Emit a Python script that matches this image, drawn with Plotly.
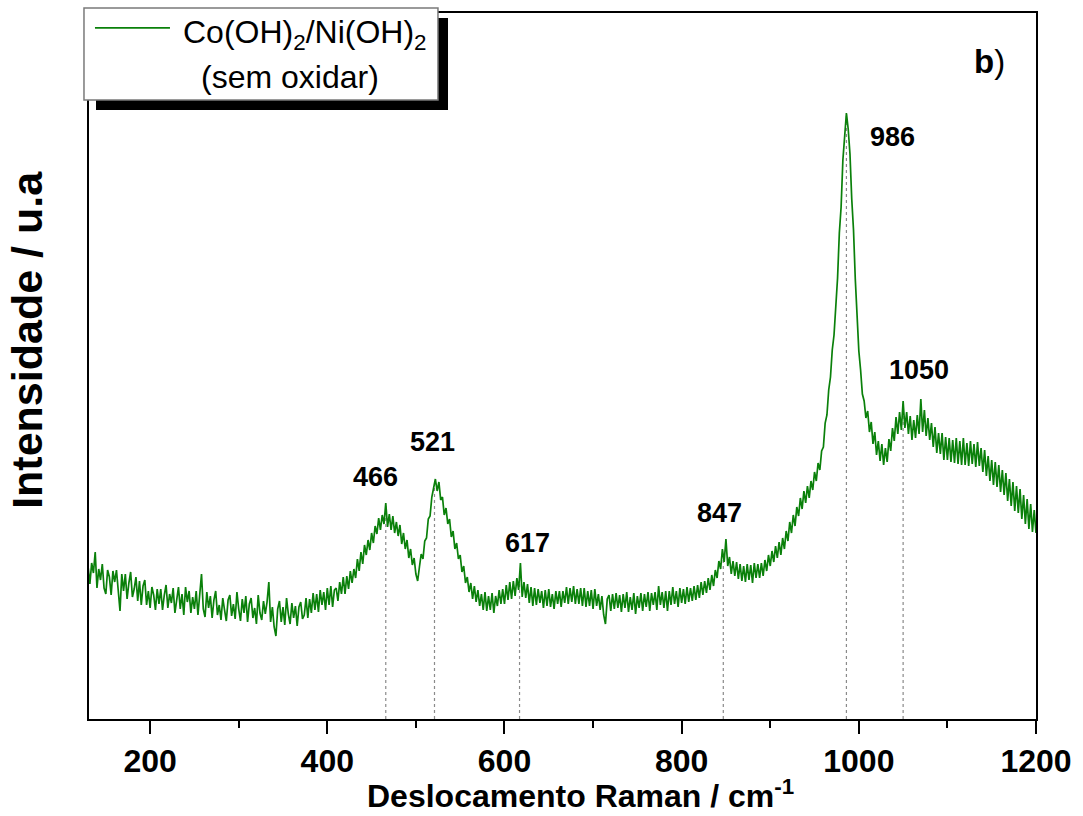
import numpy as np
import plotly.graph_objects as go

# Raman shift sampling grid (cm^-1)
SHIFT_START = 130
SHIFT_STEP = 2

# Measured intensity (arbitrary units), one value per grid point, 130-1202 cm^-1
intensity = [
    152, 135, 156, 146, 167, 131, 150, 139, 155, 131, 125, 149, 142, 124, 148, 137, 149, 126, 108, 145,
    128, 145, 120, 136, 147, 122, 130, 142, 118, 138, 114, 133, 139, 114, 128, 111, 132, 124, 109, 130,
    115, 130, 109, 124, 134, 111, 125, 116, 131, 106, 117, 132, 110, 125, 104, 132, 117, 128, 106, 122,
    110, 128, 104, 122, 145, 110, 102, 127, 111, 123, 101, 119, 128, 104, 114, 99, 121, 109, 98, 119,
    124, 103, 115, 100, 127, 110, 98, 120, 106, 123, 97, 115, 121, 101, 111, 95, 124, 106, 99, 118,
    105, 117, 137, 97, 112, 92, 83, 110, 118, 97, 112, 94, 121, 105, 95, 116, 101, 113, 93, 112,
    117, 100, 104, 121, 101, 120, 106, 126, 109, 125, 107, 129, 114, 127, 109, 131, 114, 133, 112, 129,
    131, 118, 137, 125, 142, 125, 143, 130, 148, 136, 150, 141, 160, 148, 167, 155, 174, 164, 179, 169,
    186, 176, 193, 185, 201, 189, 204, 195, 216, 192, 205, 189, 203, 186, 197, 183, 194, 175, 186, 170,
    179, 161, 170, 154, 161, 145, 138, 152, 165, 160, 178, 181, 200, 203, 222, 231, 240, 228, 237, 219,
    222, 204, 211, 195, 200, 182, 188, 170, 176, 160, 164, 147, 153, 136, 142, 127, 136, 120, 133, 117,
    129, 113, 125, 109, 127, 108, 123, 109, 126, 106, 123, 113, 129, 115, 130, 115, 134, 119, 137, 120,
    138, 123, 141, 129, 156, 122, 137, 121, 135, 116, 132, 113, 131, 114, 130, 116, 128, 111, 129, 113,
    130, 112, 125, 110, 128, 115, 128, 112, 128, 116, 132, 115, 131, 117, 133, 115, 130, 115, 131, 113,
    131, 112, 128, 113, 129, 110, 130, 113, 125, 109, 123, 104, 95, 120, 124, 108, 125, 110, 126, 111,
    124, 107, 125, 111, 127, 107, 122, 109, 126, 105, 123, 111, 126, 108, 125, 112, 127, 108, 126, 114,
    127, 109, 133, 114, 127, 111, 128, 108, 128, 114, 132, 115, 128, 112, 131, 116, 130, 115, 132, 117,
    131, 118, 133, 119, 134, 121, 137, 124, 138, 126, 141, 129, 144, 133, 149, 141, 158, 150, 170, 157,
    180, 153, 162, 145, 158, 143, 157, 140, 155, 138, 153, 137, 155, 139, 154, 136, 156, 141, 155, 141,
    156, 143, 159, 148, 164, 153, 168, 157, 173, 161, 177, 164, 181, 170, 188, 178, 197, 186, 204, 193,
    212, 203, 221, 210, 228, 216, 233, 221, 238, 229, 247, 238, 256, 249, 268, 272, 296, 304, 329, 342,
    369, 384, 414, 441, 486, 512, 559, 584, 606, 590, 565, 520, 489, 440, 402,
    368, 349, 325, 318, 301, 308, 287, 297, 275, 287, 264, 278, 258, 275, 254, 271, 257, 280, 268, 291,
    278, 302, 285, 307, 289, 318, 291, 307, 285, 303, 279, 299, 281, 304, 285, 320, 287, 309, 283, 301,
    279, 296, 272, 292, 266, 286, 265, 286, 259, 282, 259, 281, 257, 279, 256, 281, 255, 278, 254, 281,
    254, 276, 253, 278, 255, 275, 252, 277, 253, 271, 247, 269, 243, 263, 238, 259, 234, 257, 232, 254,
    227, 249, 224, 246, 218, 240, 213, 237, 208, 233, 206, 230, 200, 224, 195, 220, 190, 215, 187, 209, 186, 197,
]
shift = SHIFT_START + SHIFT_STEP * np.arange(len(intensity))

# Assigned band positions (cm^-1) and where their labels sit (shift, intensity)
peak_pos = [466, 521, 617, 847, 986, 1050]
label_x = [454, 519, 626, 843, 1038, 1068]
label_y = [242, 277, 176, 206, 582, 349]

GREEN = "#0a800a"
FONT = "Liberation Sans, Arial, sans-serif"

fig = go.Figure()

# Dotted drop lines from each band down to the baseline
for p in peak_pos:
    top = float(np.interp(p, shift, intensity))
    fig.add_trace(go.Scatter(
        x=[p, p], y=[0, top], mode="lines",
        line=dict(color="#8a8a8a", width=1.2, dash="dot"),
        showlegend=False, hoverinfo="skip",
    ))

fig.add_trace(go.Scatter(
    x=shift, y=intensity, mode="lines",
    line=dict(color=GREEN, width=1.7),
    name="Co(OH)<sub>2</sub>/Ni(OH)<sub>2</sub> (sem oxidar)",
    showlegend=False,
))

# Band labels
for p, lx, ly in zip(peak_pos, label_x, label_y):
    fig.add_annotation(
        x=lx, y=ly, text=str(p), showarrow=False,
        font=dict(family=FONT, size=27, color="black", weight="bold"),
        xanchor="center", yanchor="middle",
    )

# Legend box with drop shadow
shapes = [
    dict(type="rect", xref="paper", yref="paper",
         x0=0.0074, x1=0.3791, y0=0.8626, y1=0.9929,
         fillcolor="black", line=dict(width=0), layer="above"),
    dict(type="rect", xref="paper", yref="paper",
         x0=-0.0053, x1=0.3685, y0=0.8768, y1=1.0071,
         fillcolor="white", line=dict(color="#7a7a7a", width=1.5), layer="above"),
    dict(type="line", xref="paper", yref="paper",
         x0=0.0063, x1=0.0855, y0=0.9788, y1=0.9788,
         line=dict(color=GREEN, width=1.8), layer="above"),
]
fig.update_layout(shapes=shapes)

fig.add_annotation(
    xref="paper", yref="paper", x=0.2281, y=0.9690,
    text="Co(OH)<sub>2</sub>/Ni(OH)<sub>2</sub>", showarrow=False,
    font=dict(family=FONT, size=32, color="black"),
    xanchor="center", yanchor="middle",
)
fig.add_annotation(
    xref="paper", yref="paper", x=0.2122, y=0.9094,
    text="(sem oxidar)", showarrow=False,
    font=dict(family=FONT, size=32, color="black"),
    xanchor="center", yanchor="middle",
)

# Panel tag
fig.add_annotation(
    xref="paper", yref="paper", x=0.951, y=0.932,
    text="<b>b</b>)", showarrow=False,
    font=dict(family=FONT, size=33, color="black"),
    xanchor="center", yanchor="middle",
)

# Axis titles
fig.add_annotation(
    xref="paper", yref="paper", x=0.5195, y=-0.137,
    text="Deslocamento Raman / cm<sup>-1</sup>", showarrow=False,
    font=dict(family=FONT, size=32, color="black", weight="bold"),
    xanchor="center", yanchor="bottom",
)
fig.add_annotation(
    xref="paper", yref="paper", x=-0.0655, y=0.537,
    text="Intensidade / u.a", showarrow=False, textangle=-90,
    font=dict(family=FONT, size=43, color="black", weight="bold"),
    xanchor="center", yanchor="middle",
)

fig.update_xaxes(
    range=[131, 1200],
    tickvals=[200, 400, 600, 800, 1000, 1200],
    ticks="outside", ticklen=13, tickwidth=2, tickcolor="black",
    minor=dict(dtick=100, tick0=0, ticks="outside", ticklen=7,
               tickwidth=2, tickcolor="black"),
    tickfont=dict(family=FONT, size=32, color="black", weight="bold"),
    showline=True, linecolor="black", linewidth=2, mirror=True,
    showgrid=False, zeroline=False,
)
fig.update_yaxes(
    range=[0, 706],
    showticklabels=False, ticks="",
    showline=True, linecolor="black", linewidth=2, mirror=True,
    showgrid=False, zeroline=False,
)

fig.update_layout(
    width=1083, height=816,
    margin=dict(l=89, r=47, t=13, b=97),
    paper_bgcolor="white", plot_bgcolor="white",
    showlegend=False,
)

fig.write_html("out.html")
